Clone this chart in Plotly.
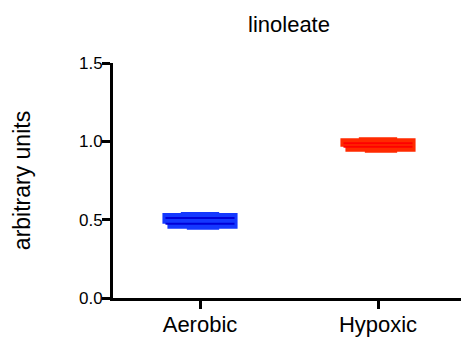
import plotly.graph_objects as go

# Group labels, means and standard errors
groups = ["Aerobic", "Hypoxic"]
means = [0.492, 0.977]
sems = [0.018, 0.011]

outer_colors = ["#1438ff", "#ff2a00"]
inner_colors = ["#0000d8", "#ff0000"]

FONT = "Liberation Sans, Arial, sans-serif"

fig = go.Figure()

for i, (m, s) in enumerate(zip(means, sems)):
    # wide band spanning mean +/- SEM
    for hw, lw in [(0.183, 10), (0.074, 12)]:
        fig.add_trace(go.Scatter(
            x=[i - hw, i + hw, i + hw, i - hw, i - hw],
            y=[m - s, m - s, m + s, m + s, m - s],
            mode="lines", fill="toself",
            fillcolor=outer_colors[i],
            line=dict(color=outer_colors[i], width=lw),
            hoverinfo="skip", showlegend=False,
        ))
    # SEM limits
    for yy in (m - s, m + s):
        fig.add_trace(go.Scatter(
            x=[i - 0.194, i + 0.194], y=[yy, yy],
            mode="lines", line=dict(color=inner_colors[i], width=2),
            hoverinfo="skip", showlegend=False,
        ))

fig.update_layout(
    width=461, height=339,
    margin=dict(l=113, r=0, t=63, b=41),
    paper_bgcolor="white", plot_bgcolor="white",
    font=dict(family=FONT, color="black"),
    title=dict(text="linoleate", x=289 / 461, xanchor="center",
               y=1 - 24 / 339, yanchor="middle",
               font=dict(size=22, family=FONT)),
    xaxis=dict(
        range=[-87 / 178, (348 - 87) / 178],
        tickvals=list(range(len(groups))), ticktext=groups,
        showgrid=False, zeroline=False,
        showline=True, linecolor="black", linewidth=3,
        ticks="outside", ticklen=8, tickwidth=3, tickcolor="black",
        ticklabelstandoff=-3,
        tickfont=dict(size=22, family=FONT),
    ),
    yaxis=dict(
        range=[0, 1.5], tickvals=[0, 0.5, 1.0, 1.5],
        ticktext=["0.0", "0.5", "1.0", "1.5"],
        showgrid=False, zeroline=False,
        showline=True, linecolor="black", linewidth=3,
        ticks="outside", ticklen=8, tickwidth=3, tickcolor="black",
        ticklabelstandoff=-4,
        tickfont=dict(size=17, family=FONT),
        title=dict(text="arbitrary units", standoff=42,
                   font=dict(size=23, family=FONT)),
    ),
)

fig.write_html("out.html")
